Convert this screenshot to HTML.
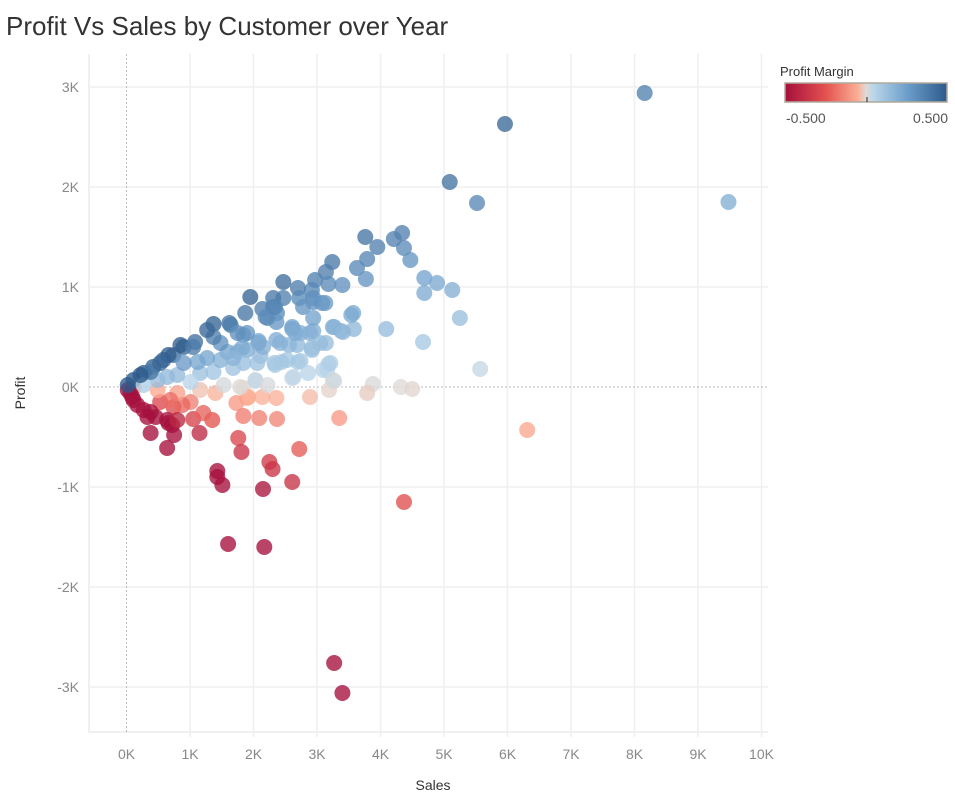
<!DOCTYPE html>
<html><head><meta charset="utf-8">
<style>
body{margin:0;background:#fff;font-family:"Liberation Sans",sans-serif;}
#wrap{position:relative;width:955px;height:804px;overflow:hidden;}
</style></head>
<body>
<div id="wrap">
<svg id="chart" width="955" height="804" xmlns="http://www.w3.org/2000/svg">
<defs>
<linearGradient id="lg" x1="0" x2="1" y1="0" y2="0">
<stop offset="0" stop-color="#a50f3d"/>
<stop offset="0.25" stop-color="#e3514f"/>
<stop offset="0.45" stop-color="#fcae95"/>
<stop offset="0.5" stop-color="#dedad6"/>
<stop offset="0.55" stop-color="#b8d5ea"/>
<stop offset="0.75" stop-color="#6e9fcb"/>
<stop offset="1" stop-color="#2d5a8a"/>
</linearGradient>
</defs>
<text x="6" y="35" font-size="26" fill="#333">Profit Vs Sales by Customer over Year</text>
<g id="grid"></g>
<g id="axes"></g>
<g id="marks"></g>
<text x="433" y="790" font-size="14" fill="#333" text-anchor="middle">Sales</text>
<text x="25" y="393" font-size="14" fill="#333" text-anchor="middle" transform="rotate(-90 25 393)">Profit</text>
<g>
<text x="780" y="76" font-size="13" fill="#333">Profit Margin</text>
<rect x="785" y="83" width="162" height="19" fill="url(#lg)" stroke="#b0a89c" stroke-width="1.5"/>
<line x1="867" y1="97" x2="867" y2="102" stroke="#222" stroke-width="1"/>
<text x="786" y="123" font-size="14" fill="#555">-0.500</text>
<text x="948" y="123" font-size="14" fill="#555" text-anchor="end">0.500</text>
</g>
</svg>
</div>
<script>
const xTicks = [0,1,2,3,4,5,6,7,8,9,10];
const yTicks = [-3,-2,-1,0,1,2,3];
const sales = [8.16,5.96,9.48,5.09,5.52,3.76,4.34,4.37,4.21,4.47,3.95,3.79,3.63,3.77,3.24,3.14,2.97,3.18,3.40,3.08,2.92,2.94,2.70,2.72,2.47,2.47,2.31,2.31,2.37,2.36,2.14,2.22,1.95,1.87,1.62,1.84,1.37,
4.69,4.89,5.13,5.25,4.69,4.09,4.67,5.57,3.58,3.54,3.38,3.27,3.14,2.94,2.92,3.18,3.10,2.74,2.69,2.74,2.61,2.56,2.61,2.36,2.44,2.33,2.08,2.11,1.82,2.03,
3.27,3.88,4.32,4.50,3.19,3.79,
6.31,3.35,2.89,2.36,2.14,1.90,1.73,1.84,2.37,2.09,1.84,
2.72,4.37,1.76,1.81,2.25,2.30,2.61,
1.43,1.43,1.51,2.15,1.60,2.17,3.27,3.40,
0.38,0.64,0.75,0.66,1.15,1.05,1.35,1.21,0.74,0.53,1.01,0.88,1.92,
0.11,0.49,0.80,1.16,1.40,0.69,0.11,0.27,0.33,0.06,0.02,0.09,0.17,0.38,0.46,0.64,0.72,0.80,
1.64,2.19,2.34,2.94,3.13,2.78,2.94,3.25,3.57,3.41,2.61,2.66,2.89,3.05,2.92,2.42,2.15,2.08,1.90,1.75,1.59,1.48,1.37,1.90,1.75,1.27,1.08,0.90,0.74,0.58,0.42,0.27,0.11,0.02,
2.70,2.34,2.63,2.86,3.16,3.21,2.53,2.06,1.84,1.68,1.37,1.16,1.01,0.80,0.64,0.49,0.27,1.68,1.48,1.27,1.12,0.90,
1.53,1.79,2.03,2.22,3.25,
0.66,0.85,1.05,0.38,0.22,0.53];
const profit = [2.94,2.63,1.85,2.05,1.84,1.50,1.54,1.39,1.48,1.27,1.40,1.28,1.19,1.08,1.25,1.15,1.07,1.03,1.02,0.84,0.97,0.89,0.99,0.89,1.05,0.89,0.89,0.80,0.74,0.65,0.78,0.69,0.90,0.74,0.64,0.52,0.63,
1.09,1.04,0.97,0.69,0.94,0.58,0.45,0.18,0.58,0.72,0.56,0.60,0.44,0.56,0.39,0.23,0.17,0.54,0.42,0.26,0.09,0.42,0.58,0.47,0.25,0.24,0.46,0.31,0.39,0.06,
0.06,0.03,0.00,-0.02,-0.03,-0.06,
-0.43,-0.31,-0.10,-0.11,-0.10,-0.11,-0.16,-0.01,-0.32,-0.31,-0.29,
-0.62,-1.15,-0.51,-0.65,-0.75,-0.82,-0.95,
-0.84,-0.90,-0.98,-1.02,-1.57,-1.60,-2.76,-3.06,
-0.46,-0.61,-0.48,-0.36,-0.46,-0.32,-0.33,-0.26,-0.20,-0.15,-0.15,-0.18,-0.10,
-0.01,-0.03,-0.06,-0.03,-0.06,-0.13,-0.13,-0.23,-0.30,-0.06,-0.03,-0.10,-0.18,-0.25,-0.30,-0.33,-0.38,-0.33,
0.62,0.70,0.80,0.85,0.84,0.80,0.69,0.60,0.74,0.55,0.60,0.54,0.54,0.44,0.37,0.44,0.40,0.44,0.37,0.35,0.35,0.44,0.50,0.54,0.54,0.57,0.45,0.40,0.32,0.27,0.20,0.14,0.07,0.02,
0.25,0.22,0.10,0.14,0.17,0.24,0.27,0.24,0.24,0.19,0.15,0.14,0.05,0.12,0.10,0.07,0.02,0.29,0.27,0.29,0.25,0.24,
0.02,0.00,0.07,0.02,0.07,
0.32,0.42,0.40,0.15,0.12,0.24];

const NS='http://www.w3.org/2000/svg';
const X0=126.5, XS=63.5, Y0=387, YS=100;
const PL=89, PR=768, PT=54, PB=732;
function xScale(v){return X0+v*XS;}
function yScale(v){return Y0-v*YS;}
const stops=[[-0.5,[165,15,61]],[-0.25,[227,81,79]],[-0.05,[252,174,149]],[0,[222,218,214]],[0.05,[184,213,234]],[0.25,[110,159,203]],[0.5,[45,90,138]]];
function colorFor(m){
  m=Math.max(-0.5,Math.min(0.5,m));
  for(let i=0;i<stops.length-1;i++){
    const a=stops[i],b=stops[i+1];
    if(m<=b[0]){const t=(m-a[0])/(b[0]-a[0]);
      const c=a[1].map((v,k)=>Math.round(v+(b[1][k]-v)*t));
      return 'rgb('+c.join(',')+')';}
  }
  return 'rgb(45,90,138)';
}
function mk(tag,attrs,parent){const e=document.createElementNS(NS,tag);for(const k in attrs)e.setAttribute(k,attrs[k]);parent.appendChild(e);return e;}
const grid=document.getElementById('grid'), axes=document.getElementById('axes'), marks=document.getElementById('marks');
const border=mk('path',{d:`M${PL} ${PT}V${PB}H${PR}`,fill:'none',stroke:'#ececec','stroke-width':1.5},grid);


xTicks.forEach(t=>{
  const x=xScale(t);
  if(t!==0){const l=mk('line',{x1:x,x2:x,y1:PT,y2:PB+5,stroke:'#efefef','stroke-width':1.5},grid);
  
  }
  const tx=mk('text',{x:x,y:759,'font-size':14,fill:'#888','text-anchor':'middle'},axes);
  tx.textContent=t+'K';
  
  
});
yTicks.forEach(t=>{
  const y=yScale(t);
  if(t!==0){const l=mk('line',{x1:PL,x2:PR,y1:y,y2:y,stroke:'#efefef','stroke-width':1.5},grid);
  
  }
  const tx=mk('text',{x:79,y:y+5,'font-size':14,fill:'#888','text-anchor':'end'},axes);
  tx.textContent=t+'K';
  
  
});
const zx=mk('line',{x1:xScale(0),x2:xScale(0),y1:PT,y2:PB,stroke:'#bbb','stroke-dasharray':'2,2'},grid);


const zy=mk('line',{x1:PL,x2:PR,y1:yScale(0),y2:yScale(0),stroke:'#bbb','stroke-dasharray':'2,2'},grid);


sales.forEach((s,i)=>{
  const p=profit[i];
  const m=s>0?p/s:0;
  const c=mk('circle',{cx:xScale(s),cy:yScale(p),r:8,fill:colorFor(m),'fill-opacity':0.78},marks);
  
  
});
</script>
</body></html>
